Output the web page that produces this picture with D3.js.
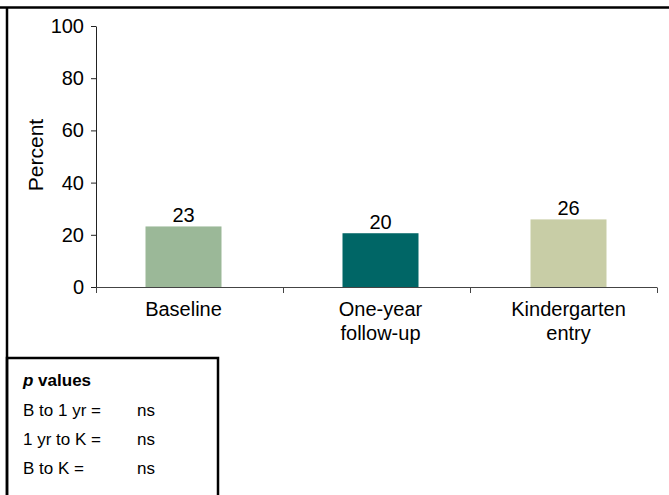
<!DOCTYPE html>
<html>
<head>
<meta charset="utf-8">
<script src="https://cdn.jsdelivr.net/npm/d3@7"></script>
<style>
	body { margin: 0; background: #fff; }
	svg { display: block; font-family: Arial, "Liberation Sans", sans-serif; }
</style>
</head>
<body>
<svg id="chart" width="669" height="495"></svg>
<script>
// chart data
const categories = [["Baseline"], ["One-year", "follow-up"], ["Kindergarten", "entry"]];
const values = [23.2, 20.6, 25.9];
const valueLabels = ["23", "20", "26"];
const barColors = ["#9bb898", "#006666", "#c8cda6"];
const yTicks = [0, 20, 40, 60, 80, 100];
const pRows = [["B to 1 yr =", "ns"], ["1 yr to K =", "ns"], ["B to K =", "ns"]];

const FONT = "Arial, 'Liberation Sans', sans-serif";
const svg = d3.select("#chart");

// outer frame (only top and left edges fall inside the picture)
svg.append("line").attr("x1", 0).attr("x2", 669).attr("y1", 7.5).attr("y2", 7.5)
	.attr("stroke", "#000").attr("stroke-width", 2.5);
svg.append("line").attr("x1", 7).attr("x2", 7).attr("y1", 7).attr("y2", 495)
	.attr("stroke", "#000").attr("stroke-width", 2.5);

// scales
const x = d3.scaleBand().domain(d3.range(categories.length)).range([96, 657]);
const y = d3.scaleLinear().domain([0, 100]).range([287, 26]);

// y axis
const yAxis = svg.append("g").attr("transform", "translate(96,0)")
	.call(d3.axisLeft(y).tickValues(yTicks).tickSize(5).tickPadding(7));
yAxis.select(".domain").attr("stroke", "#222").attr("d", "M0.5,26.5V287.5");
yAxis.selectAll(".tick line").attr("stroke", "#222");
yAxis.selectAll(".tick text").attr("font-size", 20).attr("fill", "#000").attr("font-family", FONT);

svg.append("text")
	.attr("transform", "translate(43,155) rotate(-90)")
	.attr("text-anchor", "middle")
	.attr("font-size", 21)
	.text("Percent");

// x axis
svg.append("line").attr("x1", 96).attr("x2", 657).attr("y1", 287.5).attr("y2", 287.5).attr("stroke", "#444");
const xTickPos = d3.range(categories.length + 1).map(i => i < categories.length ? x(i) : x(i - 1) + x.bandwidth());
svg.selectAll(".xtick").data(xTickPos).join("line")
	.attr("class", "xtick")
	.attr("x1", d => d + 0.5).attr("x2", d => d + 0.5)
	.attr("y1", 287.5).attr("y2", 293)
	.attr("stroke", "#444");

// bars (slight per-column shift as in the original layout)
const barW = 76;
const shift = [-6, 4, 5];
const barX = i => x(i) + x.bandwidth() / 2 - barW / 2 + shift[i];
svg.selectAll(".bar").data(values).join("rect")
	.attr("class", "bar")
	.attr("x", (d, i) => barX(i))
	.attr("width", barW)
	.attr("y", d => y(d))
	.attr("height", d => y(0) - y(d))
	.attr("fill", (d, i) => barColors[i]);

svg.selectAll(".vlabel").data(values).join("text")
	.attr("class", "vlabel")
	.attr("x", (d, i) => barX(i) + barW / 2)
	.attr("y", d => y(d) - 4)
	.attr("text-anchor", "middle")
	.attr("font-size", 20)
	.text((d, i) => valueLabels[i]);

// category labels
categories.forEach((lines, i) => {
	const t = svg.append("text")
		.attr("x", barX(i) + barW / 2)
		.attr("y", 316)
		.attr("text-anchor", "middle")
		.attr("font-size", 20);
	lines.forEach((l, j) => {
		t.append("tspan").attr("x", barX(i) + barW / 2).attr("dy", j === 0 ? 0 : 24).text(l);
	});
});

// p values box
svg.append("rect").attr("x", 7).attr("y", 358).attr("width", 211).attr("height", 150)
	.attr("fill", "none").attr("stroke", "#000").attr("stroke-width", 2.5);
const ptitle = svg.append("text").attr("x", 23).attr("y", 386).attr("font-size", 17).attr("font-weight", "bold");
ptitle.append("tspan").attr("font-style", "italic").text("p");
ptitle.append("tspan").text(" values");
svg.selectAll(".prow").data(pRows).join("g")
	.attr("class", "prow")
	.each(function(d, i) {
		const g = d3.select(this);
		g.append("text").attr("x", 23).attr("y", 416 + i * 29).attr("font-size", 17).text(d[0]);
		g.append("text").attr("x", 137).attr("y", 416 + i * 29).attr("font-size", 17).text(d[1]);
	});
</script>
</body>
</html>
